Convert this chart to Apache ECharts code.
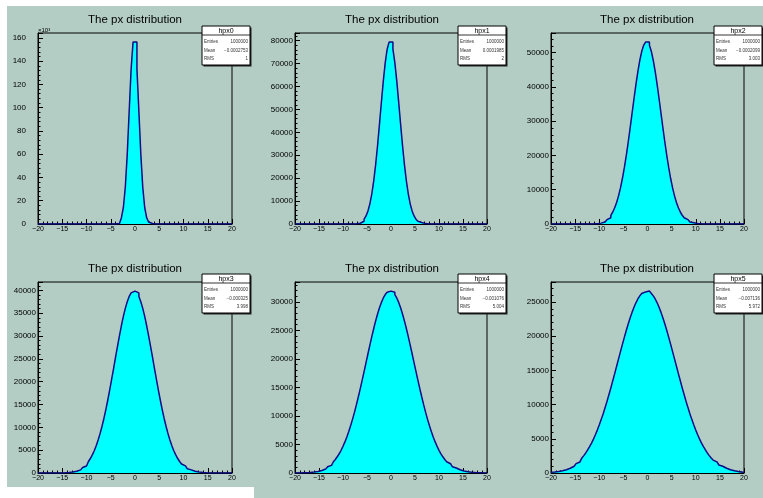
<!DOCTYPE html>
<html>
<head>
<meta charset="utf-8">
<script src="https://cdn.jsdelivr.net/npm/echarts@6/dist/echarts.min.js"></script>
<style>
  html, body { margin: 0; padding: 0; background: #fff; }
  #main { width: 763px; height: 498px; }
</style>
</head>
<body>
<div id="main"></div>
<script>
// binning of all six histograms: 100 bins from -20 to 20
var binLo = -20, binW = 0.4;

var names = ['hpx0', 'hpx1', 'hpx2', 'hpx3', 'hpx4', 'hpx5'];
var entries = ['1000000', '1000000', '1000000', '1000000', '1000000', '1000000'];
var means = ['-0.0002753', '0.0001985', '-0.0002099', '-0.000325', '-0.001076', '-0.007136'];
var rmsVals = ['1', '2', '3.003', '3.998', '5.004', '5.972'];
var yStep = [20000, 10000, 10000, 5000, 5000, 5000];

// bin contents (bin 0 = [-20,-19.6])
var hpx0 = [
  0,0,0,0,0,0,0,0,0,0,
  0,0,0,0,0,0,0,0,0,0,
  0,0,0,0,0,0,0,0,0,0,
  0,0,0,0,0,0,0,1,4,24,
  117,493,1773,5430,14190,31600,59900,96800,133300,156400,
  156400,133300,96800,59900,31600,14190,5430,1773,493,117,
  24,4,1,0,0,0,0,0,0,0,
  0,0,0,0,0,0,0,0,0,0,
  0,0,0,0,0,0,0,0,0,0,
  0,0,0,0,0,0,0,0,0,0
];
var hpx1 = [
  0,0,0,0,0,0,0,0,0,0,
  0,0,0,0,0,0,0,0,0,0,
  0,0,0,0,0,0,1,3,8,18,
  40,85,175,345,650,1190,2080,3510,5660,8800,
  13130,18810,25910,34280,43570,53220,62450,70410,76280,79390,
  79390,76280,70410,62450,53220,43570,34280,25910,18810,13130,
  8800,5660,3510,2080,1190,650,345,175,85,40,
  18,8,3,1,0,0,0,0,0,0,
  0,0,0,0,0,0,0,0,0,0,
  0,0,0,0,0,0,0,0,0,0
];
var hpx2 = [
  0,0,0,0,0,0,0,0,0,0,
  0,0,0,0,1,1,2,4,8,14,
  23,39,64,103,164,256,393,591,874,1270,
  1810,2540,3500,4730,6290,8210,10530,13270,16420,19960,
  23850,27990,32260,36540,40650,44430,47700,50320,52140,53070,
  53070,52140,50320,47700,44430,40650,36540,32260,27990,23850,
  19960,16420,13270,10530,8210,6290,4730,3500,2540,1810,
  1270,874,591,393,256,164,103,64,39,23,
  14,8,4,2,1,1,0,0,0,0,
  0,0,0,0,0,0,0,0,0,0
];
var hpx3 = [
  0,0,0,1,1,2,3,5,7,11,
  16,24,35,51,73,104,146,203,279,381,
  514,687,909,1191,1545,1980,2520,3170,3960,4880,
  5960,7210,8630,10230,12000,13940,16040,18270,20590,22990,
  25410,27800,30110,32300,34290,36050,37520,38670,39450,39840,
  39840,39450,38670,37520,36050,34290,32300,30110,27800,25410,
  22990,20590,18270,16040,13940,12000,10230,8630,7210,5960,
  4880,3960,3170,2520,1980,1545,1191,909,687,514,
  381,279,203,146,104,73,51,35,24,16,
  11,7,5,3,2,1,1,0,0,0
];
var hpx4 = [
  13,17,23,32,42,56,75,99,129,168,
  217,278,355,449,566,708,880,1087,1334,1626,
  1970,2370,2840,3370,3980,4680,5450,6320,7270,8320,
  9450,10680,11980,13360,14800,16290,17810,19360,20900,22430,
  23910,25330,26660,27880,28970,29910,30690,31280,31690,31890,
  31890,31690,31280,30690,29910,28970,27880,26660,25330,23910,
  22430,20900,19360,17810,16290,14800,13360,11980,10680,9450,
  8320,7270,6320,5450,4680,3980,3370,2840,2370,1970,
  1626,1334,1087,880,708,566,449,355,278,217,
  168,129,99,75,56,42,32,23,17,13
];
var hpx5 = [
  115,143,177,218,267,326,397,480,579,695,
  830,987,1169,1377,1616,1890,2200,2540,2930,3370,
  3850,4370,4950,5590,6270,7010,7800,8630,9520,10450,
  11430,12430,13470,14520,15590,16670,17740,18790,19820,20820,
  21760,22650,23470,24210,24870,25430,25880,26230,26460,26580,
  26580,26460,26230,25880,25430,24870,24210,23470,22650,21760,
  20820,19820,18790,17740,16670,15590,14520,13470,12430,11430,
  10450,9520,8630,7800,7010,6270,5590,4950,4370,3850,
  3370,2930,2540,2200,1890,1616,1377,1169,987,830,
  695,579,480,397,326,267,218,177,143,115
];
var hists = [hpx0, hpx1, hpx2, hpx3, hpx4, hpx5];

// pad / frame geometry
var frameLeft = [38, 295, 551];
var frameWidth = [194, 192, 193];
var frameTop = [33, 282];
var frameHeight = 191;
var titleX = [135, 392, 647];
var titleY = [20, 269];
var statX = [202, 458, 714];
var statY = [26, 274];

var FONT = 'Liberation Sans';
var padColor = '#b3cdc4';

function histData(vals) {
	var d = [];
	for (var i = 0; i < vals.length; i++) {
		d.push([binLo + binW * i, vals[i]]);
	}
	d.push([binLo + binW * vals.length, vals[vals.length - 1]]);
	return d;
}
function minus(v) {
	return String(v).replace('-', '\u2212');
}

var grids = [], xAxes = [], yAxes = [], series = [], graphics = [];

// white margins of the canvas
graphics.push({type: 'rect', shape: {x: 0, y: 0, width: 763, height: 6}, style: {fill: '#fff'}, z: 1});
graphics.push({type: 'rect', shape: {x: 0, y: 0, width: 7, height: 498}, style: {fill: '#fff'}, z: 1});
graphics.push({type: 'rect', shape: {x: 0, y: 487, width: 254, height: 11}, style: {fill: '#fff'}, z: 1});

for (var p = 0; p < 6; p++) {
	var col = p % 3, row = Math.floor(p / 3);
	var vals = hists[p];
	var ymax = Math.max.apply(null, vals) * 1.05;

	grids.push({
		left: frameLeft[col], top: frameTop[row],
		width: frameWidth[col], height: frameHeight,
		show: true, borderColor: '#000', borderWidth: 1,
		backgroundColor: 'transparent'
	});
	xAxes.push({
		type: 'value', gridIndex: p, min: -20, max: 20, interval: 5,
		axisLine: {onZero: false, lineStyle: {color: '#000', width: 1}},
		axisTick: {inside: true, length: 5, lineStyle: {color: '#000'}},
		minorTick: {show: true, splitNumber: 5, length: 2.5, lineStyle: {color: '#000'}},
		splitLine: {show: false},
		axisLabel: {fontSize: 7, fontFamily: FONT, color: '#000', margin: 2, formatter: minus}
	});
	yAxes.push({
		type: 'value', gridIndex: p, min: 0, max: ymax, interval: yStep[p],
		axisLine: {show: true, onZero: false, lineStyle: {color: '#000', width: 1}},
		axisTick: {inside: true, length: 5, lineStyle: {color: '#000'}},
		minorTick: {show: true, splitNumber: 5, length: 2.5, lineStyle: {color: '#000'}},
		splitLine: {show: false},
		name: p === 0 ? '\u00d710\u00b3' : '',
		nameLocation: 'end', nameGap: 0,
		nameTextStyle: {fontSize: 6, fontFamily: FONT, color: '#000', align: 'left', verticalAlign: 'bottom'},
		axisLabel: {
			fontSize: 8, fontFamily: FONT, color: '#000',
			margin: p === 0 ? 12 : 2, showMaxLabel: false,
			formatter: p === 0 ? function (v) { return String(v / 1000); } : function (v) { return String(v); }
		}
	});
	series.push({
		name: names[p], type: 'line', step: 'end',
		xAxisIndex: p, yAxisIndex: p,
		data: histData(vals),
		symbol: 'none', silent: true,
		lineStyle: {color: '#0c0c86', width: 1.5},
		areaStyle: {color: '#00ffff', opacity: 1, origin: 'start'}
	});

	// title
	graphics.push({
		type: 'text', x: titleX[col], y: titleY[row], z: 50,
		style: {text: 'The px distribution', fontSize: 11.5, fontFamily: FONT, fill: '#000',
			textAlign: 'center', textVerticalAlign: 'middle'}
	});

	// stats box
	var sx = statX[col], sy = statY[row], sw = 48, sh = 39;
	graphics.push({
		type: 'group', x: sx, y: sy, z: 60,
		children: [
			{type: 'rect', shape: {x: 1.5, y: 1.5, width: sw, height: sh}, style: {fill: '#222'}},
			{type: 'rect', shape: {x: 0, y: 0, width: sw, height: sh}, style: {fill: '#fff', stroke: '#000', lineWidth: 1}},
			{type: 'line', shape: {x1: 0, y1: 9, x2: sw, y2: 9}, style: {stroke: '#000', lineWidth: 0.8}},
			{type: 'text', x: sw / 2, y: 4.8, style: {text: names[p], fontSize: 7, fontFamily: FONT, fill: '#000', textAlign: 'center', textVerticalAlign: 'middle'}},
			{type: 'text', x: 2, y: 16, style: {text: 'Entries', fontSize: 4.5, fontFamily: FONT, fill: '#333', textVerticalAlign: 'middle'}},
			{type: 'text', x: sw - 2, y: 16, style: {text: entries[p], fontSize: 4.5, fontFamily: FONT, fill: '#333', textAlign: 'right', textVerticalAlign: 'middle'}},
			{type: 'text', x: 2, y: 24.5, style: {text: 'Mean', fontSize: 4.5, fontFamily: FONT, fill: '#333', textVerticalAlign: 'middle'}},
			{type: 'text', x: sw - 2, y: 24.5, style: {text: minus(means[p]), fontSize: 4.5, fontFamily: FONT, fill: '#333', textAlign: 'right', textVerticalAlign: 'middle'}},
			{type: 'text', x: 2, y: 33, style: {text: 'RMS', fontSize: 4.5, fontFamily: FONT, fill: '#333', textVerticalAlign: 'middle'}},
			{type: 'text', x: sw - 2, y: 33, style: {text: rmsVals[p], fontSize: 4.5, fontFamily: FONT, fill: '#333', textAlign: 'right', textVerticalAlign: 'middle'}}
		]
	});
}

var chart = echarts.init(document.getElementById('main'), null, {renderer: 'canvas'});
chart.setOption({
	backgroundColor: padColor,
	animation: false,
	grid: grids,
	xAxis: xAxes,
	yAxis: yAxes,
	series: series,
	graphic: graphics
});
</script>
</body>
</html>
